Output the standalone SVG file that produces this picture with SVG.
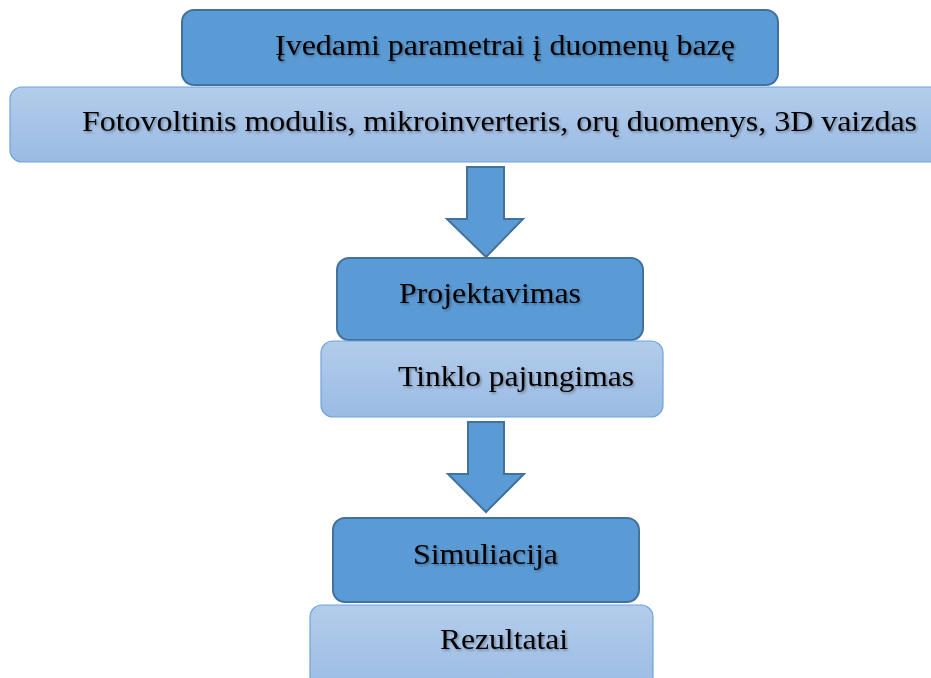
<svg xmlns="http://www.w3.org/2000/svg" width="931" height="678" viewBox="0 0 931 678">
<defs>
<linearGradient id="lg" x1="0" y1="0" x2="0" y2="1">
<stop offset="0" stop-color="#b3cceb"/>
<stop offset="1" stop-color="#9abbe3"/>
</linearGradient>
<filter id="ts" x="-5%" y="-20%" width="110%" height="150%">
<feDropShadow dx="1.5" dy="1.5" stdDeviation="1" flood-color="#000" flood-opacity="0.35"/>
</filter>
</defs>
<style>
.dark{fill:#5b9bd5;stroke:#41719c;stroke-width:2}
.light{fill:url(#lg);stroke:#6fa3dc;stroke-width:1.2}
.arrow{fill:#5b9bd5;stroke:#41719c;stroke-width:2;stroke-linejoin:miter}
text{font-family:"Liberation Serif","Times New Roman",serif;font-size:30px;fill:#000;filter:url(#ts)}
</style>
<rect width="931" height="678" fill="#fff"/>
<g id="connectors">
<polygon class="arrow" points="467,167 504,167 504,219 523,219 486,257 447,219 467,219"/>
<polygon class="arrow" points="468,422 504,422 504,474 524,474 486,512 448,474 468,474"/>
</g>
<g id="n1">
<rect class="dark" x="182" y="10" width="596" height="75" rx="12"/>
<text x="275" y="55" textLength="460" lengthAdjust="spacingAndGlyphs">Įvedami parametrai į duomenų bazę</text>
</g>
<g id="n2">
<rect class="light" x="10" y="87" width="935" height="75" rx="12"/>
<text x="82" y="131" textLength="835" lengthAdjust="spacingAndGlyphs">Fotovoltinis modulis, mikroinverteris, orų duomenys, 3D vaizdas</text>
</g>
<g id="n3">
<rect class="dark" x="337" y="258" width="306" height="82" rx="12"/>
<text x="399" y="303" textLength="182" lengthAdjust="spacingAndGlyphs">Projektavimas</text>
</g>
<g id="n4">
<rect class="light" x="321" y="341" width="342" height="76" rx="12"/>
<text x="398" y="386" textLength="236" lengthAdjust="spacingAndGlyphs">Tinklo pajungimas</text>
</g>
<g id="n5">
<rect class="dark" x="333" y="518" width="306" height="84" rx="12"/>
<text x="413" y="564" textLength="145" lengthAdjust="spacingAndGlyphs">Simuliacija</text>
</g>
<g id="n6">
<rect class="light" x="310" y="605" width="343" height="90" rx="12"/>
<text x="440" y="649" textLength="128" lengthAdjust="spacingAndGlyphs">Rezultatai</text>
</g>
</svg>
